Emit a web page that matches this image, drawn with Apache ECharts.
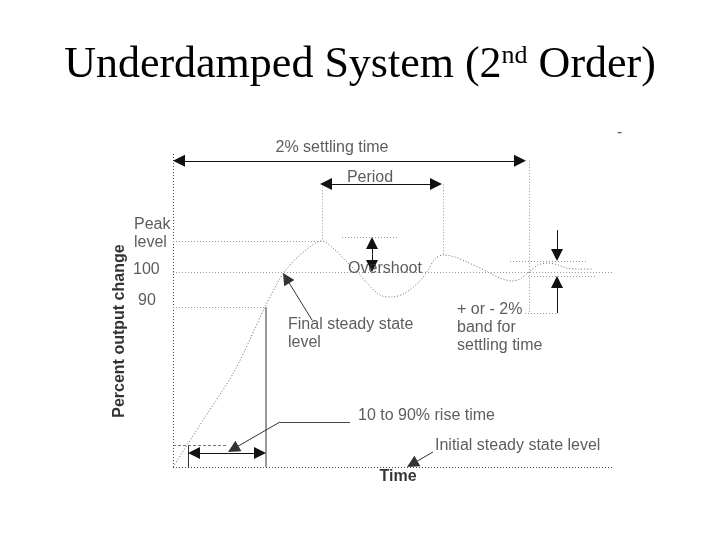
<!DOCTYPE html>
<html>
<head>
<meta charset="utf-8">
<title>Underdamped System (2nd Order)</title>
<script src="https://cdn.jsdelivr.net/npm/echarts@6/dist/echarts.min.js"></script>
<style>
  html, body { margin: 0; padding: 0; background: #fff; }
  #chart { width: 720px; height: 540px; }
</style>
</head>
<body>
<div id="chart"></div>
<script>
// step response: [time, percent output change]
const response = [
  [0, 0], [8, 25.6], [15.5, 49.7], [23, 82.1], [26.25, 94.9], [27.75, 100],
  [31.75, 108.7], [37.25, 115.9], [40.5, 111.3], [43.5, 105.1], [46, 100],
  [48.5, 94.4], [51.75, 88.2], [54.75, 87.2], [58, 89.2], [61.75, 95.4],
  [63.75, 101], [65.5, 106.7], [67.5, 108.7], [70.5, 107.7], [73.5, 105.1],
  [78.75, 100], [81.75, 96.9], [84.75, 95.4], [86.75, 96.4], [89, 100],
  [91.25, 103.6], [93.75, 104.6], [96.25, 103.6], [98.5, 102], [101.75, 101.5],
  [105, 101.5]
];

// axis lines (dotted)
const axisSegs = [
  [[0, 0], [0, 161]],
  [[0, 0], [110, 0]]
];

// light dotted guide lines
const guideSegs = [
  [[0, 100], [110, 100]],        // final steady state
  [[0, 116], [37.25, 116]],      // peak level
  [[0, 82], [23.25, 82]],        // 90 %
  [[37.25, 145], [37.25, 116]],  // period start
  [[67.5, 145], [67.5, 108.7]],  // period end
  [[89, 157], [89, 79]],         // settling time end
  [[42.25, 118], [56, 118]],     // overshoot top
  [[84.25, 105.6], [103.5, 105.6]], // band upper
  [[88.75, 98], [106, 98]],         // band lower
  [[88, 79], [96, 79]]              // band label tie
];

const tenPctSegs = [[[0, 11], [13.5, 11]]];
const riseEndSegs = [[[23.25, 0], [23.25, 82]]];
const riseStartSegs = [[[3.75, 0], [3.75, 11]]];
const leaderSegs = [[[44.25, 23.1], [26.75, 23.1]]];

// arrows with heads at both ends (tip to tip)
const twoWayArrows = [
  [[0, 157], [88.25, 157]],         // settling time
  [[36.75, 145.1], [67.25, 145.1]], // period
  [[3.75, 7.2], [23.25, 7.2]]       // rise time
];
// arrows with head at the end only
const oneWayArrows = [
  [[49.75, 109], [49.75, 118]],     // overshoot up
  [[49.75, 109], [49.75, 100]],     // overshoot down
  [[96, 121.5], [96, 105.6]],       // band, from above
  [[96, 79], [96, 98]]              // band, from below
];
const leaderArrows = [
  [[26.75, 23.1], [13.75, 7.7]],
  [[65, 7.7], [58.5, 0]],
  [[34.75, 75.4], [27.5, 99.5]]
];

// text notes: [time, percent, text]
const centerNotes = [
  [39.75, 163.6, '2% settling time'],
  [49.25, 148.2, 'Period'],
  [53, 102, 'Overshoot']
];
const leftNotes = [
  [-9.75, 119.5, 'Peak\nlevel'],
  [-10, 101, '100'],
  [-8.75, 85.1, '90'],
  [28.75, 68.2, 'Final steady state\nlevel'],
  [71, 71.3, '+ or - 2%\nband for\nsettling time'],
  [46.25, 26.2, '10 to 90% rise time'],
  [65.5, 10.8, 'Initial steady state level'],
  [111, 171.3, '-']
];
const timeName = [56.25, -5.1, 'Time'];
const valueName = [-13.25, 69.7, 'Percent output change'];

const font = 'Liberation Sans, Arial, sans-serif';
const headSize = 12;

const chart = echarts.init(document.getElementById('chart'));

const grid = { left: 13, right: 87, top: 125.75, bottom: 53.5 };
const xAxis = { type: 'value', min: -40, max: 115, show: false };
const yAxis = { type: 'value', min: -10, max: 175, show: false };
chart.setOption({ animation: false, grid: grid, xAxis: xAxis, yAxis: yAxis });

// symbols sit centred on the line ends, so move the ends back half a head
function pullBack(seg, fromHead, toHead) {
  const a = chart.convertToPixel({ gridIndex: 0 }, seg[0]);
  const b = chart.convertToPixel({ gridIndex: 0 }, seg[1]);
  const dx = b[0] - a[0], dy = b[1] - a[1];
  const len = Math.sqrt(dx * dx + dy * dy);
  const ux = dx / len * headSize / 2, uy = dy / len * headSize / 2;
  const a2 = fromHead ? [a[0] + ux, a[1] + uy] : a;
  const b2 = toHead ? [b[0] - ux, b[1] - uy] : b;
  return [chart.convertFromPixel({ gridIndex: 0 }, a2),
          chart.convertFromPixel({ gridIndex: 0 }, b2)];
}

function segs(list, color, width, dash, symbol) {
  return {
    type: 'lines',
    coordinateSystem: 'cartesian2d',
    silent: true,
    symbol: symbol || 'none',
    symbolSize: headSize,
    lineStyle: { color: color, width: width, type: dash || 'solid', opacity: 1 },
    data: list.map(function (c) { return { coords: c }; })
  };
}

function arrows(list, color, both) {
  const moved = list.map(function (s) { return pullBack(s, both, true); });
  return segs(moved, color, 1, 'solid', [both ? 'triangle' : 'none', 'triangle']);
}

function notes(list, align, extra) {
  return {
    type: 'scatter',
    symbolSize: 0,
    silent: true,
    clip: false,
    z: 5,
    data: list.map(function (n) {
      return { value: [n[0], n[1]], name: n[2] };
    }),
    label: Object.assign({
      show: true,
      position: 'inside',
      align: align,
      verticalAlign: 'middle',
      formatter: '{b}',
      fontFamily: font,
      fontSize: 16,
      lineHeight: 18,
      color: '#333'
    }, extra || {})
  };
}

chart.setOption({
  animation: false,
  backgroundColor: '#fff',
  title: {
    text: 'Underdamped System (2{sup|nd} Order)',
    left: 'center',
    top: 38,
    textStyle: {
      fontFamily: 'Liberation Serif, Times New Roman, serif',
      fontSize: 44,
      fontWeight: 'normal',
      color: '#000',
      rich: {
        sup: {
          fontFamily: 'Liberation Serif, Times New Roman, serif',
          fontSize: 26,
          verticalAlign: 'top',
          color: '#000'
        }
      }
    }
  },
  series: [
    segs(axisSegs, '#444', 1, [1, 2]),
    segs(guideSegs, '#9a9a9a', 1, [1, 2]),
    segs(tenPctSegs, '#777', 1, [3, 2]),
    segs(riseEndSegs, '#999', 2),
    segs(riseStartSegs, '#333', 1),
    segs(leaderSegs, '#444', 1),
    arrows(twoWayArrows, '#111', true),
    arrows(oneWayArrows, '#111', false),
    arrows(leaderArrows, '#333', false),
    {
      type: 'line',
      data: response,
      smooth: 0.3,
      showSymbol: false,
      silent: true,
      lineStyle: { color: '#6a6a6a', width: 1, type: [1, 2] }
    },
    notes(centerNotes, 'center'),
    notes(leftNotes, 'left'),
    notes([timeName], 'center', { fontWeight: 'bold', color: '#000' }),
    notes([valueName], 'center', { fontWeight: 'bold', color: '#000', rotate: 90 })
  ]
});
</script>
</body>
</html>
